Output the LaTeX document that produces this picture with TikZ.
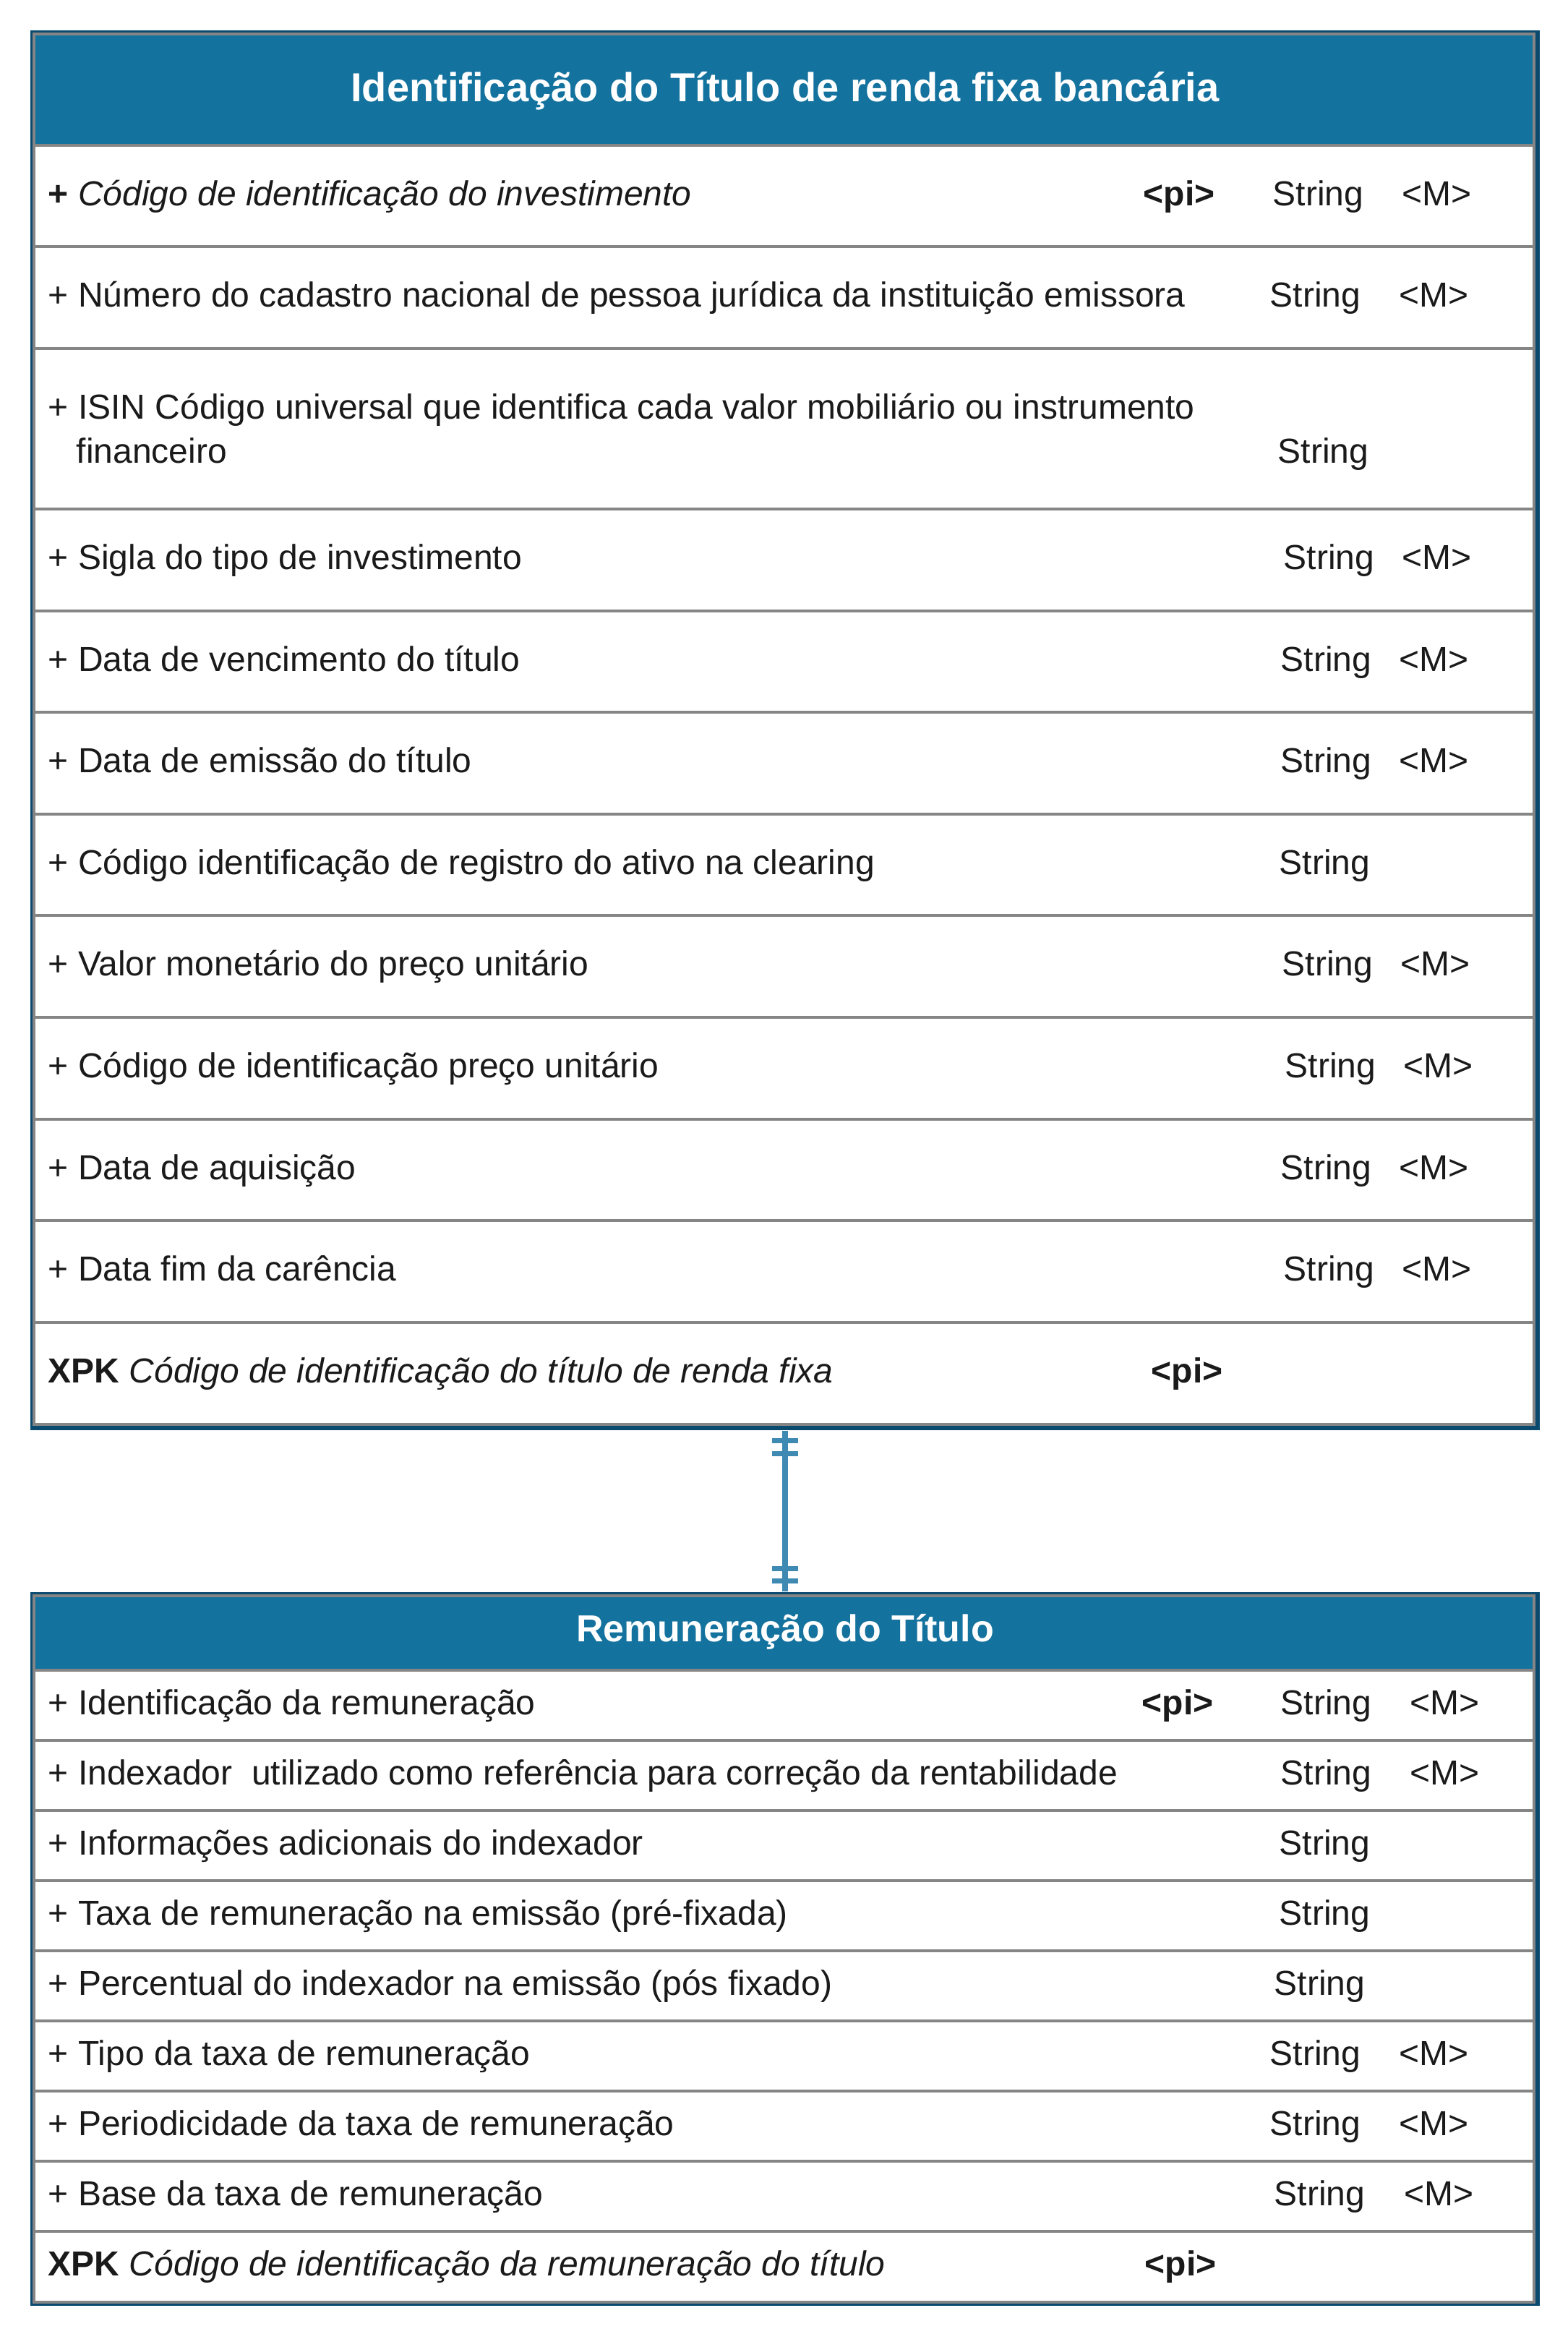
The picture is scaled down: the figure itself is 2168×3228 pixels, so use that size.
\documentclass[tikz,border=0pt]{standalone}
\usepackage{fontspec}
\setmainfont{Liberation Sans}
\usetikzlibrary{calc}
\definecolor{hdr}{HTML}{14729E}
\definecolor{navy}{HTML}{0A4A6F}
\definecolor{sep}{HTML}{858585}
\definecolor{conn}{HTML}{3F8AB3}
\definecolor{ink}{HTML}{1A1A1A}
\begin{document}
\begin{tikzpicture}[x=0.25pt,y=-0.25pt,
  txt/.style={anchor=base west,inner sep=0,text=ink,font=\fontsize{12}{14.4}\selectfont},
  ttl/.style={anchor=base,inner sep=0,text=white,font=\fontsize{14}{17}\selectfont\bfseries},
  shadowbox/.style={rectangle,fill=navy,inner sep=0,minimum width=522pt},
  sepline/.style={draw=sep,line width=1pt},
  conline/.style={draw=conn,line width=2pt},
  tickmark/.style={draw=conn,line width=1.75pt}]
\useasboundingbox (0,0) rectangle (2168,3228);
% ---------- entity 1 ----------
\node[shadowbox,minimum height=484pt] (e1) at (1086,1010) {};
\fill[white] (44.5,44.5) rectangle (2124,1972);
\fill[hdr] (44.5,44.5) rectangle (2124,201);
\draw[sepline] (46.5,46.5) rectangle (2122,1970);
\foreach \yy in {201,341,482,704,844.6,985.2,1125.8,1266.4,1407,1547.6,1688.2,1828.8}
  \draw[sepline] (46.5,\yy) -- (2122,\yy);
\node[ttl] (t1) at (1086,140) {Identificação do Título de renda fixa bancária};
\node[txt] (a1) at (66,284) {\textbf{+} \textit{Código de identificação do investimento}};
\node[txt] (a1p) at (1581,284) {\textbf{<pi>}};
\node[txt] (a1s) at (1760,284) {String};
\node[txt] (a1m) at (1939,284) {<M>};
\node[txt] (a2) at (66,424) {+ Número do cadastro nacional de pessoa jurídica da instituição emissora};
\node[txt] (a2s) at (1756,424) {String};
\node[txt] (a2m) at (1935,424) {<M>};
\node[txt] (a3) at (66,579) {+ ISIN Código universal que identifica cada valor mobiliário ou instrumento};
\node[txt] (a3b) at (105,640) {financeiro};
\node[txt] (a3s) at (1767,640) {String};
\node[txt] (a4) at (66,787) {+ Sigla do tipo de investimento};
\node[txt] (a4s) at (1775,787) {String};
\node[txt] (a4m) at (1939,787) {<M>};
\node[txt] (a5) at (66,928) {+ Data de vencimento do título};
\node[txt] (a5s) at (1771,928) {String};
\node[txt] (a5m) at (1935,928) {<M>};
\node[txt] (a6) at (66,1068) {+ Data de emissão do título};
\node[txt] (a6s) at (1771,1068) {String};
\node[txt] (a6m) at (1935,1068) {<M>};
\node[txt] (a7) at (66,1209) {+ Código identificação de registro do ativo na clearing};
\node[txt] (a7s) at (1769,1209) {String};
\node[txt] (a8) at (66,1349) {+ Valor monetário do preço unitário};
\node[txt] (a8s) at (1773,1349) {String};
\node[txt] (a8m) at (1937,1349) {<M>};
\node[txt] (a9) at (66,1490) {+ Código de identificação preço unitário};
\node[txt] (a9s) at (1777,1490) {String};
\node[txt] (a9m) at (1941,1490) {<M>};
\node[txt] (a10) at (66,1631) {+ Data de aquisição};
\node[txt] (a10s) at (1771,1631) {String};
\node[txt] (a10m) at (1935,1631) {<M>};
\node[txt] (a11) at (66,1771) {+ Data fim da carência};
\node[txt] (a11s) at (1775,1771) {String};
\node[txt] (a11m) at (1939,1771) {<M>};
\node[txt] (a12) at (66,1912) {\textbf{XPK} \textit{Código de identificação do título de renda fixa}};
\node[txt] (a12p) at (1592,1912) {\textbf{<pi>}};
% ---------- entity 2 ----------
\node[shadowbox,minimum height=246.75pt] (e2) at (1086,2695.5) {};
\fill[white] (44.5,2205) rectangle (2124,3185);
\fill[hdr] (44.5,2205) rectangle (2124,2310);
\draw[sepline] (46.5,2206.5) rectangle (2122,3183.5);
\foreach \yy in {2310,2407,2504,2601,2698,2795,2892,2989,3086}
  \draw[sepline] (46.5,\yy) -- (2122,\yy);
\node[ttl,font=\fontsize{13}{16}\selectfont\bfseries] (t2) at (1086,2270) {Remuneração do Título};
\node[txt] (b1) at (66,2371) {+ Identificação da remuneração};
\node[txt] (b1p) at (1579,2371) {\textbf{<pi>}};
\node[txt] (b1s) at (1771,2371) {String};
\node[txt] (b1m) at (1950,2371) {<M>};
\node[txt] (b2) at (66,2468) {+ Indexador\ \ utilizado como referência para correção da rentabilidade};
\node[txt] (b2s) at (1771,2468) {String};
\node[txt] (b2m) at (1950,2468) {<M>};
\node[txt] (b3) at (66,2565) {+ Informações adicionais do indexador};
\node[txt] (b3s) at (1769,2565) {String};
\node[txt] (b4) at (66,2662) {+ Taxa de remuneração na emissão (pré-fixada)};
\node[txt] (b4s) at (1769,2662) {String};
\node[txt] (b5) at (66,2759) {+ Percentual do indexador na emissão (pós fixado)};
\node[txt] (b5s) at (1762,2759) {String};
\node[txt] (b6) at (66,2856) {+ Tipo da taxa de remuneração};
\node[txt] (b6s) at (1756,2856) {String};
\node[txt] (b6m) at (1935,2856) {<M>};
\node[txt] (b7) at (66,2953) {+ Periodicidade da taxa de remuneração};
\node[txt] (b7s) at (1756,2953) {String};
\node[txt] (b7m) at (1935,2953) {<M>};
\node[txt] (b8) at (66,3050) {+ Base da taxa de remuneração};
\node[txt] (b8s) at (1762,3050) {String};
\node[txt] (b8m) at (1942,3050) {<M>};
\node[txt] (b9) at (66,3147) {\textbf{XPK} \textit{Código de identificação da remuneração do título}};
\node[txt] (b9p) at (1583,3147) {\textbf{<pi>}};
% ---------- relationship ----------
\draw[conline] (e1.south) -- (e2.north);
\draw[tickmark] ($(e1.south)+(-18,14)$) -- ++(36,0);
\draw[tickmark] ($(e1.south)+(-18,32)$) -- ++(36,0);
\draw[tickmark] ($(e2.north)+(-18,-32)$) -- ++(36,0);
\draw[tickmark] ($(e2.north)+(-18,-15)$) -- ++(36,0);
\end{tikzpicture}
\end{document}
